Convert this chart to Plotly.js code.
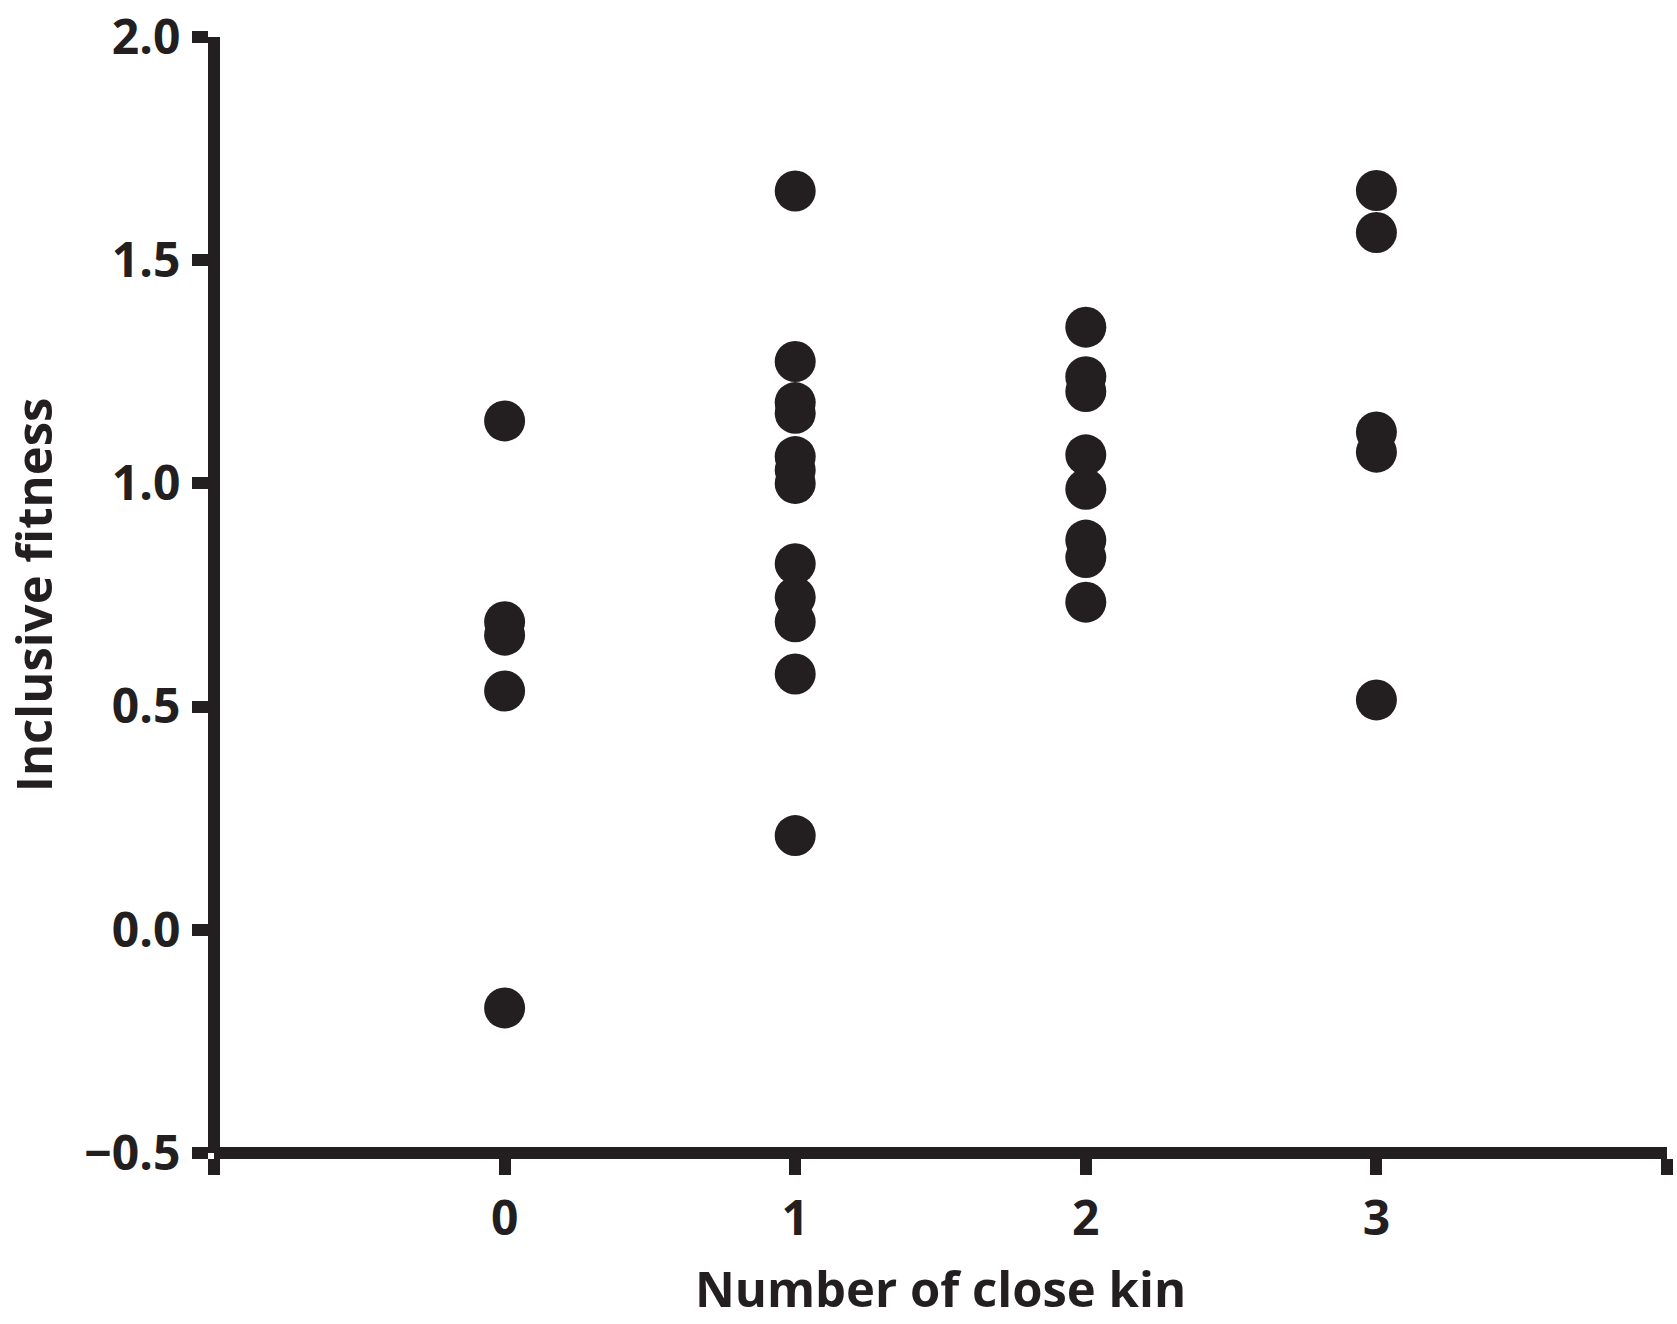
<!DOCTYPE html>
<html>
<head>
<meta charset="utf-8">
<script src="https://cdn.plot.ly/plotly-3.0.1.min.js"></script>
<style>
  html, body { margin: 0; padding: 0; background: #ffffff; }
  #chart { width: 1677px; height: 1324px; }
</style>
</head>
<body>
<div id="chart"></div>
<script>
// Data
const kinZero = [1.14, 0.69, 0.66, 0.535, -0.175];
const kinOne = [1.655, 1.273, 1.181, 1.157, 1.06, 1.03, 1.00, 0.82, 0.745, 0.69, 0.573, 0.211];
const kinTwo = [1.35, 1.239, 1.206, 1.064, 0.987, 0.873, 0.834, 0.734];
const kinThree = [1.656, 1.562, 1.115, 1.07, 0.515];
const kinGroups = [0, 1, 2, 3];
const xTickVals = [-1, 0, 1, 2, 3, 4];
const xTickText = ['', '0', '1', '2', '3', ''];
const yTickVals = [-0.5, 0.0, 0.5, 1.0, 1.5, 2.0];
const yTickText = ['\u22120.5', '0.0', '0.5', '1.0', '1.5', '2.0'];
const xTitle = 'Number of close kin';
const yTitle = 'Inclusive fitness';

const groups = [kinZero, kinOne, kinTwo, kinThree];
const xs = [], ys = [];
groups.forEach((vals, i) => {
  vals.forEach(v => { xs.push(kinGroups[i]); ys.push(v); });
});

const ink = '#231f20';
const fontFam = '"Open Sans", "DejaVu Sans", sans-serif';

const trace = {
  type: 'scatter',
  mode: 'markers',
  x: xs,
  y: ys,
  marker: { size: 41, color: ink, line: { width: 0 } },
  hoverinfo: 'x+y',
  showlegend: false
};

const layout = {
  width: 1677,
  height: 1324,
  margin: { l: 214, r: 10, t: 37, b: 171 },
  paper_bgcolor: '#ffffff',
  plot_bgcolor: '#ffffff',
  font: { family: fontFam, color: ink, size: 48, weight: 'bold' },
  xaxis: {
    range: [-1, 4],
    anchor: 'free',
    position: 0,
    showline: true,
    linecolor: ink,
    linewidth: 12,
    showgrid: false,
    zeroline: false,
    ticks: 'outside',
    ticklen: 16,
    tickwidth: 12,
    tickcolor: ink,
    ticklabelstandoff: 2,
    tickmode: 'array',
    tickvals: xTickVals,
    ticktext: xTickText,
    tickfont: { family: fontFam, size: 48, color: ink, weight: 'bold' },
    title: { text: xTitle, font: { family: fontFam, size: 49, color: ink, weight: 'bold' }, standoff: 24 },
    automargin: false,
    fixedrange: true
  },
  yaxis: {
    range: [-0.5, 2.0],
    anchor: 'free',
    position: 0,
    showline: true,
    linecolor: ink,
    linewidth: 12,
    showgrid: false,
    zeroline: false,
    ticks: 'outside',
    ticklen: 16,
    tickwidth: 12,
    tickcolor: ink,
    ticklabelstandoff: 2,
    tickmode: 'array',
    tickvals: yTickVals,
    ticktext: yTickText,
    tickfont: { family: fontFam, size: 48, color: ink, weight: 'bold' },
    title: { text: yTitle, font: { family: fontFam, size: 49, color: ink, weight: 'bold' }, standoff: 20 },
    automargin: false,
    fixedrange: true
  }
};

Plotly.newPlot('chart', [trace], layout, { displayModeBar: false, staticPlot: true });
</script>
</body>
</html>
